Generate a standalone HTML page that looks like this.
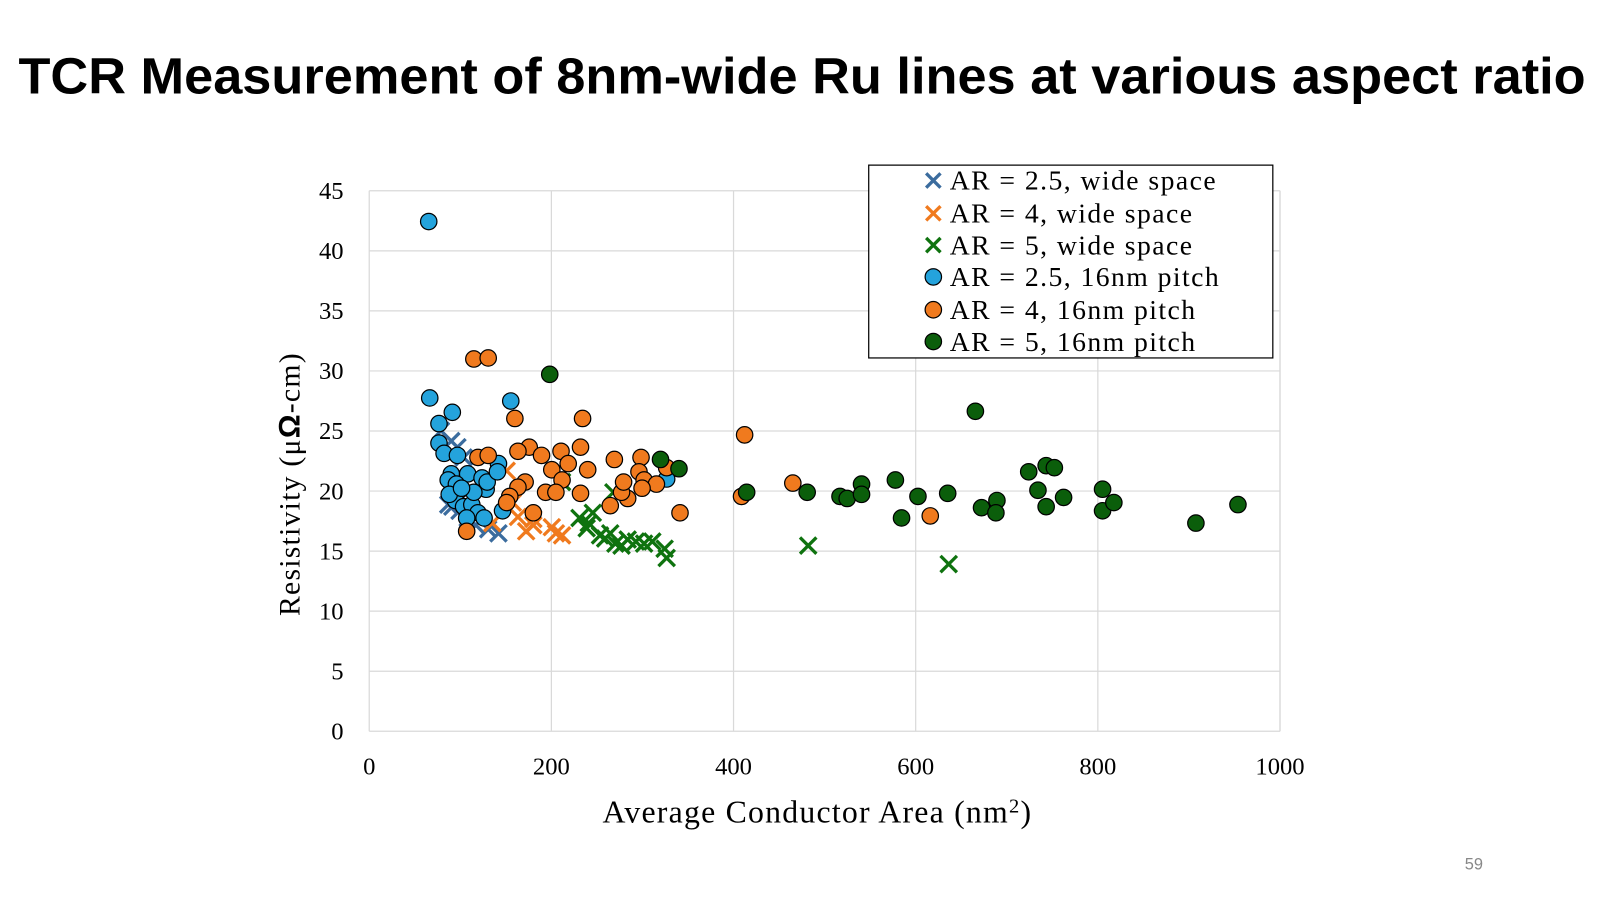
<!DOCTYPE html>
<html><head><meta charset="utf-8"><style>html,body{margin:0;padding:0;background:#fff}svg{display:block}</style></head>
<body>
<svg id="s" width="1600" height="900" viewBox="0 0 1560 877.5" xmlns="http://www.w3.org/2000/svg" font-family="Liberation Serif, serif">
<rect width="1560" height="877.5" fill="#fff"/>
<text x="18" y="91" font-family="Liberation Sans, sans-serif" font-weight="bold" font-size="50" textLength="1528" lengthAdjust="spacingAndGlyphs">TCR Measurement of 8nm-wide Ru lines at various aspect ratio</text>
<g id="grid" stroke="#d9d9d9" stroke-width="1.2"></g>
<g id="ticks" font-size="24" fill="#000"></g>
<g id="pts"></g>
<text x="797" y="802" text-anchor="middle" font-size="31" letter-spacing="1.2">Average Conductor Area (nm<tspan dy="-10" font-size="20">2</tspan><tspan dy="10">)</tspan></text>
<text transform="translate(292,472) rotate(-90)" text-anchor="middle" font-size="29" letter-spacing="1.2">Resistivity (μ<tspan font-family="Liberation Sans, sans-serif" font-weight="bold">Ω</tspan>-cm)</text>
<rect x="847" y="161" width="394" height="188" fill="#fff" stroke="#000" stroke-width="1.2"/>
<g id="leg" font-size="27" letter-spacing="1.4"></g>
<text x="1437" y="848" font-family="Liberation Sans, sans-serif" font-size="16" fill="#888" text-anchor="middle">59</text>
</svg>
<script>
const NS="http://www.w3.org/2000/svg";
function el(p,t,a,txt){const e=document.createElementNS(NS,t);for(const k in a)e.setAttribute(k,a[k]);if(txt!==undefined)e.textContent=txt;document.getElementById(p).appendChild(e);return e;}
const X0=360,X1=1248,Y0=713,Y1=186;
for(let v=0;v<=1000;v+=200){const x=X0+(X1-X0)*v/1000;el('grid','line',{x1:x,y1:Y1,x2:x,y2:Y0});el('ticks','text',{x:x,y:755,'text-anchor':'middle'},v);}
el('grid','line',{x1:X1,y1:Y1,x2:X1,y2:Y0});
for(let v=0;v<=45;v+=5){const y=Y0-(Y0-Y1)*v/45;el('grid','line',{x1:X0,y1:y,x2:X1,y2:y});el('ticks','text',{x:335,y:y+8,'text-anchor':'end'},v);}
const C={bx:'#3b6c9e',ox:'#f07a1e',gx:'#0f730f',bc:'#24a3dc',oc:'#f07a1e',gc:'#0b5e0b'};
function X(c,x,y,s){s=s||8;el('pts','path',{d:`M${x-s} ${y-s}L${x+s} ${y+s}M${x-s} ${y+s}L${x+s} ${y-s}`,stroke:c,'stroke-width':3.2,fill:'none'});}
function O(c,x,y){el('pts','circle',{cx:x,cy:y,r:8,fill:c,stroke:'#000','stroke-width':1.2});}
const bx=[[430,420],[446,436],[437,492],[448,498],[456,505],[464,512],[476,516],[486,520],[440,430],[452,446],[441,494]];
const ox=[[494,459],[505,504],[513,518],[520,512],[538,514],[548,522],[542,520],[500,490],[520,506],[480,510]];
const gx=[[548,470],[565,505],[572,515],[578,500],[585,522],[595,520],[600,530],[606,532],[612,526],[620,528],[628,530],[636,528],[648,535],[650,544],[598,480],[788,532],[925,550],[574,510],[590,525]];
const bc=[[418,216],[419,388],[441,402],[498,391],[428,432],[433,442],[446,444],[440,462],[437,468],[448,478],[456,462],[470,466],[474,477],[486,452],[444,488],[452,494],[460,492],[466,500],[455,505],[472,505],[490,498],[475,470],[462,480],[445,472],[650,467],[485,460],[438,482],[450,476],[428,413]];
const oc=[[462,350],[476,349],[502,408],[568,408],[726,424],[516,436],[547,440],[566,436],[505,440],[466,446],[476,444],[528,444],[554,452],[573,458],[538,458],[548,468],[532,480],[512,470],[505,475],[497,484],[494,490],[520,500],[542,480],[599,448],[625,446],[623,460],[628,468],[650,456],[640,472],[612,486],[606,480],[595,493],[608,470],[626,476],[663,500],[723,484],[773,471],[907,503],[566,481],[455,518]];
const gc=[[536,365],[951,401],[644,448],[662,457],[728,480],[787,480],[819,484],[826,486],[840,472],[840,482],[873,468],[879,505],[895,484],[924,481],[957,495],[972,488],[971,500],[1003,460],[1020,454],[1028,456],[1012,478],[1020,494],[1037,485],[1075,477],[1075,498],[1086,490],[1166,510],[1207,492]];
bx.forEach(p=>X(C.bx,p[0],p[1]));ox.forEach(p=>X(C.ox,p[0],p[1]));gx.forEach(p=>X(C.gx,p[0],p[1]));
bc.forEach(p=>O(C.bc,p[0],p[1]));oc.forEach(p=>O(C.oc,p[0],p[1]));gc.forEach(p=>O(C.gc,p[0],p[1]));
const L=[['x',C.bx,'AR = 2.5, wide space'],['x',C.ox,'AR = 4, wide space'],['x',C.gx,'AR = 5, wide space'],['o',C.bc,'AR = 2.5, 16nm pitch'],['o',C.oc,'AR = 4, 16nm pitch'],['o',C.gc,'AR = 5, 16nm pitch']];
const ys=[176,208,239,270,302,333];
L.forEach((l,i)=>{const y=ys[i];
 if(l[0]=='x'){el('leg','path',{d:`M${903} ${y-7}L${917} ${y+7}M${903} ${y+7}L${917} ${y-7}`,stroke:l[1],'stroke-width':3.2});}
 else el('leg','circle',{cx:910,cy:y,r:8,fill:l[1],stroke:'#000','stroke-width':1.2});
 el('leg','text',{x:926,y:y+9},l[2]);});
</script>
</body></html>
